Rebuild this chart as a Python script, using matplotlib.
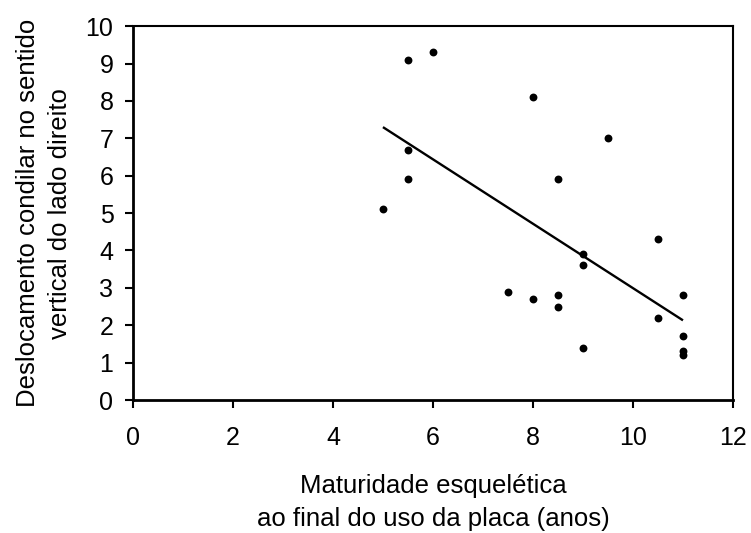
import numpy as np
import matplotlib
matplotlib.use("Agg")
import matplotlib.pyplot as plt

plt.rcParams['font.family'] = ['Liberation Sans', 'DejaVu Sans']

x_vals = [5, 5.5, 5.5, 5.5, 6, 7.5, 8, 8, 8.5, 8.5, 8.5, 9, 9, 9, 9.5, 10.5, 10.5, 11, 11, 11, 11]
y_vals = [5.1, 9.1, 6.7, 5.9, 9.3, 2.9, 8.1, 2.7, 5.9, 2.8, 2.5, 3.9, 3.6, 1.4, 7.0, 4.3, 2.2, 2.8, 1.7, 1.3, 1.2]
x_ticks = [0, 2, 4, 6, 8, 10, 12]
y_ticks = list(range(0, 11))

fig = plt.figure(figsize=(7.51, 5.33), dpi=100)
ax = fig.add_axes([0.177, 0.2495, 0.799, 0.7015])

x = np.array(x_vals)
y = np.array(y_vals)
m, b = np.polyfit(x, y, 1)
xl = np.array([x.min(), x.max()])
ax.plot(xl, m * xl + b, color='black', lw=1.7, solid_capstyle='butt')
ax.scatter(x, y, s=32, color='black', zorder=3, linewidths=0)

ax.set_xlim(0, 12)
ax.set_ylim(0, 10)
ax.set_xticks(x_ticks)
ax.set_yticks(y_ticks)
ax.tick_params(axis='both', labelsize=18, length=6, width=1.5, direction='out')
ax.tick_params(axis='y', pad=8)
ax.tick_params(axis='x', pad=13)
for side in ['left', 'bottom']:
    ax.spines[side].set_linewidth(2)
for side in ['top', 'right']:
    ax.spines[side].set_linewidth(1.5)

ax.set_xlabel("Maturidade esquelética\nao final do uso da placa (anos)", fontsize=18.5, labelpad=17, linespacing=1.45)
ax.set_ylabel("Deslocamento condilar no sentido\nvertical do lado direito", fontsize=18.5, labelpad=10, linespacing=1.4)

fig.savefig("out.png", dpi=100)
